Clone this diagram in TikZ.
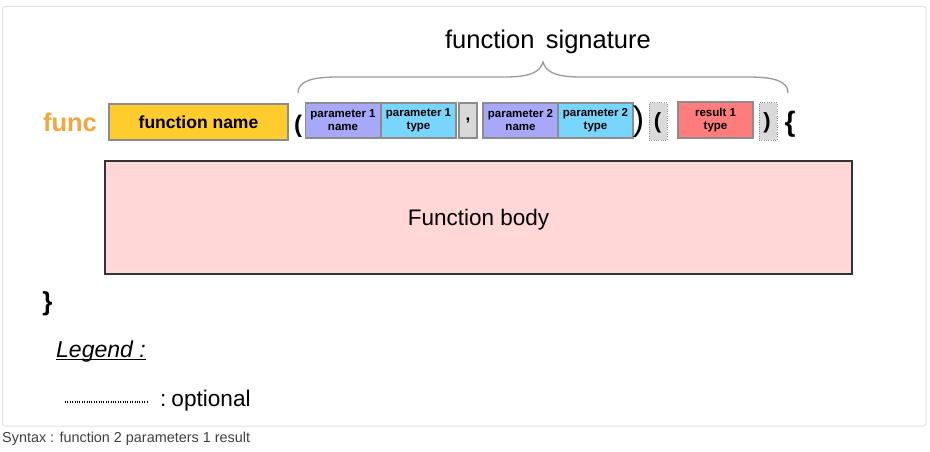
\documentclass[tikz,border=0pt]{standalone}
\usepackage{fontspec}
\setmainfont{Liberation Sans}
\definecolor{framecol}{HTML}{E0E0E6}
\definecolor{boxgray}{HTML}{8C8C8C}
\definecolor{funcorange}{HTML}{F7A43A}
\definecolor{namegold}{HTML}{FFCC2E}
\definecolor{pname}{HTML}{A8A8F8}
\definecolor{ptype}{HTML}{78D6FC}
\definecolor{lightgray}{HTML}{D9D9D9}
\definecolor{resred}{HTML}{FF7C7C}
\definecolor{bodypink}{HTML}{FFD7D7}
\definecolor{bodyline}{HTML}{333333}
\definecolor{bracecol}{HTML}{9A9A9A}
\definecolor{captioncol}{HTML}{404040}
\tikzset{
  sbox/.style={draw=boxgray, line width=1.2pt, inner sep=0pt, align=center,
    font=\fontsize{11.5}{13}\selectfont\bfseries},
  optbox/.style={draw=boxgray, fill=lightgray, line width=1pt, dash pattern=on 1pt off 1.3pt,
    inner sep=0pt, minimum width=18pt, minimum height=37pt},
  punct/.style={inner sep=0pt, font=\bfseries},
}
\begin{document}
\begin{tikzpicture}[x=1pt,y=-1pt]
\useasboundingbox (0,0) rectangle (930,452);
% frame
\draw[framecol, line width=1pt, rounded corners=2.5pt] (2.5,6.5) rectangle (926,426);

% title and brace
\node[inner sep=0pt, font=\fontsize{25.5}{28}\selectfont] (sig) at (548,42) {function\hspace{0.45em}signature};
\coordinate (bl) at (298,93);
\coordinate (bt) at (543,62);
\coordinate (br) at (788,93);
\draw[bracecol, line width=1.3pt]
  (bl) .. controls (298,81) and (312,77) .. (338,77) -- (505,77)
  .. controls (528,77) and (540,73) .. (bt)
  .. controls (546,73) and (558,77) .. (581,77) -- (748,77)
  .. controls (774,77) and (788,81) .. (br);

% signature row
\node[inner sep=0pt, text=funcorange, font=\fontsize{25.5}{28}\selectfont\bfseries] (func) at (70,122) {func};
\node[sbox, fill=namegold, minimum width=179pt, minimum height=36pt, text height=13pt, text depth=0pt,
  font=\fontsize{17.5}{20}\selectfont\bfseries] (fname) at (198.5,122) {function name};
\node[punct, font=\fontsize{24}{26}\selectfont\bfseries] (lp1) at (298,126) {(};
\node[sbox, fill=pname, minimum width=75pt, minimum height=35pt] (p1n) at (343,120.5) {parameter 1\\name};
\node[sbox, fill=ptype, minimum width=75pt, minimum height=35pt] (p1t) at (418.5,120.5) {parameter 1\\type};
\node[sbox, fill=lightgray, minimum width=18pt, minimum height=35pt, font=\fontsize{17}{20}\selectfont\bfseries] (comma) at (468,120.5) {,};
\node[sbox, fill=pname, minimum width=75pt, minimum height=35pt] (p2n) at (520.5,120.5) {parameter 2\\name};
\node[sbox, fill=ptype, minimum width=75pt, minimum height=35pt] (p2t) at (595.5,120.5) {parameter 2\\type};
\node[inner sep=0pt, font=\fontsize{34}{36}\selectfont] (rp1) at (638.5,121.5) {)};
\node[optbox] (ob1) at (658,121.5) {};
\node[punct, font=\fontsize{22}{24}\selectfont\bfseries] (lp2) at (657.5,122.5) {(};
\node[sbox, fill=resred, minimum width=75pt, minimum height=36pt] (r1) at (715.5,120) {result 1\\type};
\node[optbox] (ob2) at (768,121.5) {};
\node[punct, font=\fontsize{22}{24}\selectfont\bfseries] (rp2) at (767,123) {)};
\node[punct, font=\fontsize{28}{30}\selectfont\bfseries] (lb) at (790,124.5) {\{};

% body
\node[draw=bodyline, fill=bodypink, line width=1.5pt, minimum width=747pt, minimum height=113pt,
  inner sep=0pt, text height=16pt, text depth=0pt, font=\fontsize{22.5}{26}\selectfont] (body) at (478.5,217.5) {Function body};
\node[punct, font=\fontsize{26}{28}\selectfont\bfseries] (rb) at (47.5,304) {\}};

% legend
\node[anchor=base west, inner sep=0pt, font=\fontsize{23}{26}\selectfont\itshape] (leg) at (56,357) {Legend :};
\draw[line width=1.3pt] ([yshift=-2.5pt]leg.base west) -- ([yshift=-2.5pt]leg.base east);
\coordinate (d1) at (65,402);
\coordinate (d2) at (148,402);
\draw[line width=1.2pt, dash pattern=on 1pt off 1.4pt, black] (d1) -- (d2);
\node[anchor=base west, inner sep=0pt, font=\fontsize{22.6}{26}\selectfont] (opt) at (160,406) {:\hspace{0.22em}optional};

% caption
\node[anchor=base west, inner sep=0pt, text=captioncol, font=\fontsize{14.4}{16}\selectfont] (cap) at (2,442) {Syntax : function 2 parameters 1 result};
\end{tikzpicture}
\end{document}
